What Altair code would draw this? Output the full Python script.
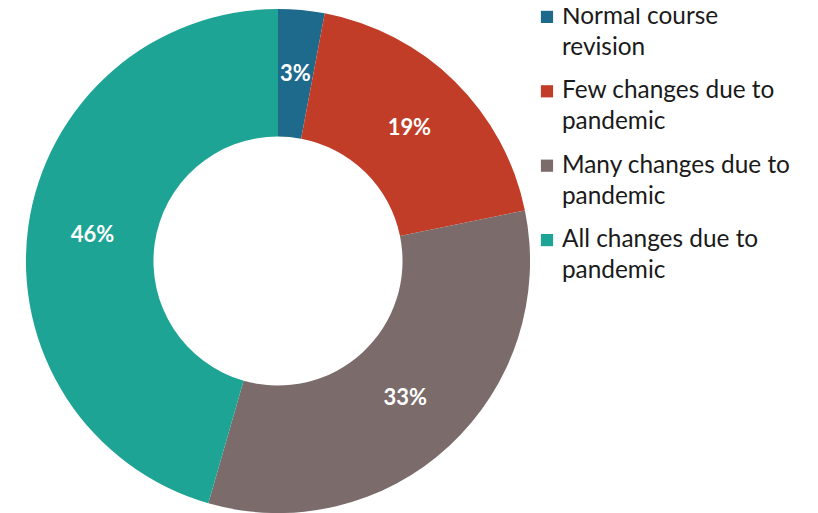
import altair as alt
import pandas as pd

categories = ["Normal course revision", "Few changes due to pandemic",
              "Many changes due to pandemic", "All changes due to pandemic"]
legend_text = ["Normal course|revision", "Few changes due to|pandemic",
               "Many changes due to|pandemic", "All changes due to|pandemic"]
values = [3, 19, 33, 46]
labels = ["3%", "19%", "33%", "46%"]
colors = ["#1E6A8D", "#C13D28", "#7B6B6B", "#1EA494"]

df = pd.DataFrame({"category": categories, "value": values, "legend": legend_text,
                   "label": labels, "order": list(range(len(values)))})

color = alt.Color("category:N",
                  scale=alt.Scale(domain=categories, range=colors),
                  legend=None)

base = alt.Chart(df).encode(
    theta=alt.Theta("value:Q", stack=True),
    order=alt.Order("order:Q"),
    x=alt.value(271), y=alt.value(253),
)

arcs = base.mark_arc(innerRadius=125, outerRadius=253).encode(color=color)
text = base.mark_text(radius=188, font="Lato", fontSize=22, fontWeight="bold",
                      color="white").encode(text="label:N")

leg_y = alt.Y("order:O", axis=None,
              scale=alt.Scale(type="point", range=[8, 232], padding=0))
leg_sq = alt.Chart(df).mark_square(size=150, opacity=1).encode(
    x=alt.value(541), y=leg_y, color=color)
leg_tx = alt.Chart(df).mark_text(
    align="left", baseline="middle", lineBreak="|", lineHeight=31,
    font="Lato", fontSize=24.5, color="#1a1a1a").encode(
    x=alt.value(556), y=leg_y, text="legend:N")

chart = (arcs + text + leg_sq + leg_tx).properties(
    width=805, height=505, padding=0,
    autosize=alt.AutoSizeParams(type="none")).configure_view(stroke=None)

chart.save("out.html", embed_options={"renderer": "svg", "actions": False})
